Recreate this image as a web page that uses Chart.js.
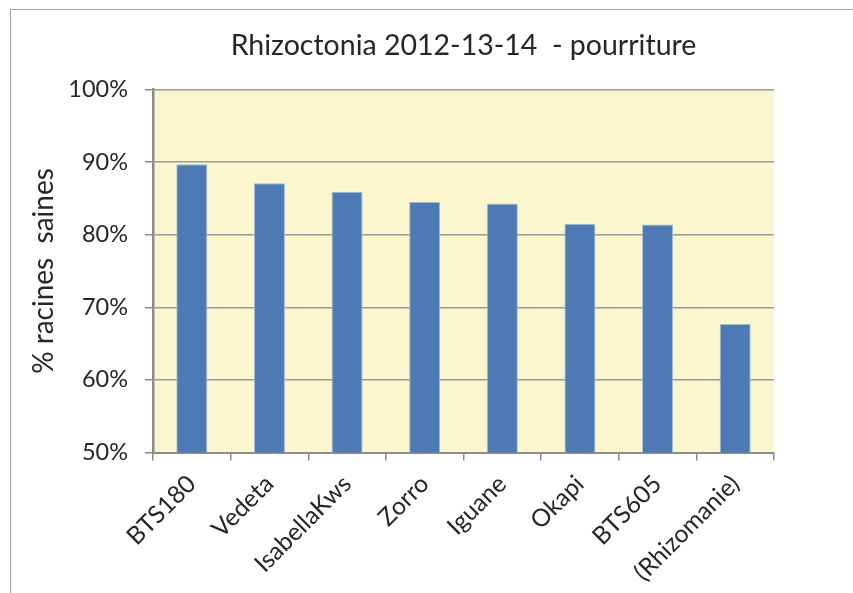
<!DOCTYPE html>
<html>
<head>
<meta charset="utf-8">
<script src="https://cdn.jsdelivr.net/npm/chart.js@4/dist/chart.umd.min.js"></script>
<style>
  html, body { margin: 0; padding: 0; background: #fff; }
  #wrap { width: 853px; height: 593px; }
</style>
</head>
<body>
<div id="wrap"><canvas id="c" width="853" height="593"></canvas></div>
<script>
const categories = ['BTS180', 'Vedeta', 'IsabellaKws', 'Zorro', 'Iguane', 'Okapi', 'BTS605', '(Rhizomanie)'];
const healthyRoots = [89.7, 87.1, 85.9, 84.5, 84.3, 81.5, 81.4, 67.7];
const yTickValues = [50, 60, 70, 80, 90, 100];
const chartTitle = 'Rhizoctonia 2012-13-14  - pourriture';
const yAxisTitle = '% racines  saines';

const FONT = 'Lato, "Open Sans", sans-serif';
const TEXT = '#262626';

const decor = {
  id: 'decor',
  beforeDraw(chart) {
    const ctx = chart.ctx, a = chart.chartArea;
    ctx.save();
    ctx.fillStyle = '#ffffff';
    ctx.fillRect(0, 0, chart.width, chart.height);
    ctx.strokeStyle = '#a6a6a6';
    ctx.lineWidth = 1;
    ctx.strokeRect(10.5, 9.5, chart.width + 20, chart.height + 20);
    ctx.fillStyle = '#FAF7CE';
    ctx.fillRect(a.left, a.top, a.right - a.left, a.bottom - a.top);
    ctx.restore();
  }
};

new Chart(document.getElementById('c'), {
  type: 'bar',
  data: {
    labels: categories,
    datasets: [{
      data: healthyRoots,
      backgroundColor: '#4D7AB4',
      borderColor: '#a3bad6',
      borderWidth: 1,
      barPercentage: 0.4,
      categoryPercentage: 1.0
    }]
  },
  options: {
    responsive: false,
    animation: false,
    devicePixelRatio: 1,
    layout: { padding: { left: 0, right: 79, top: 0, bottom: 0 } },
    plugins: {
      legend: { display: false },
      tooltip: { enabled: false },
      title: {
        display: true,
        text: chartTitle,
        fullSize: false,
        color: TEXT,
        font: { family: FONT, size: 28.5, weight: 'normal', lineHeight: 1.2 },
        padding: { top: 29, bottom: 26.3 }
      }
    },
    scales: {
      x: {
        afterFit(scale) { scale.height = 140.5; },
        grid: {
          display: true,
          drawOnChartArea: false,
          drawTicks: true,
          tickLength: 8,
          color: '#8c8c8c',
          lineWidth: 1.5,
          offset: true
        },
        border: { display: true, color: '#8c8c8c', width: 2 },
        ticks: {
          minRotation: 45,
          maxRotation: 45,
          autoSkip: false,
          padding: 9,
          color: TEXT,
          font: { family: FONT, size: 24.5 }
        }
      },
      y: {
        min: 50,
        max: 100,
        afterFit(scale) { scale.width = 153; },
        afterBuildTicks(scale) { scale.ticks = yTickValues.map(v => ({ value: v })); },
        grid: {
          color: '#9a9a9a',
          lineWidth: 1.5,
          drawTicks: true,
          tickLength: 8,
          tickColor: '#8c8c8c'
        },
        border: { display: true, color: '#8c8c8c', width: 2.5 },
        ticks: {
          padding: 17,
          color: TEXT,
          font: { family: FONT, size: 23.5 },
          callback: v => v + '%'
        },
        title: {
          display: true,
          text: yAxisTitle,
          color: TEXT,
          font: { family: FONT, size: 28, weight: 'normal' },
          padding: { top: 27, bottom: 0 }
        }
      }
    }
  },
  plugins: [decor]
});
</script>
</body>
</html>
